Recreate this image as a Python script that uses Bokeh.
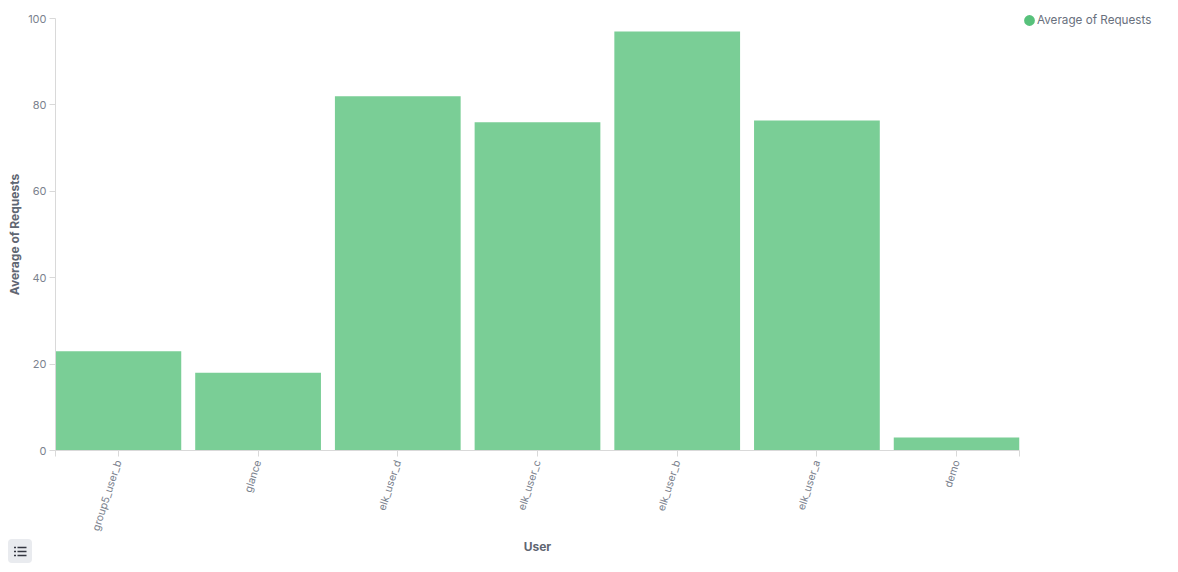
from bokeh.plotting import figure
from bokeh.layouts import column
from bokeh.models import Range1d, Legend, LegendItem, FixedTicker, Div
from bokeh.embed import file_html
from bokeh.resources import INLINE

users = ["group5_user_b", "glance", "elk_user_d", "elk_user_c", "elk_user_b", "elk_user_a", "demo"]
requests = [23, 18, 82, 76, 97, 76.4, 3]
y_ticks = [0, 20, 40, 60, 80, 100]

FONT = "Inter"
AXIS = "#d9d9d9"
TEXT = "#7b828e"
TITLE = "#5f6672"
BAR_W = 0.9
x_pos = list(range(len(users)))
x_lo, x_hi = -BAR_W / 2, len(users) - 1 + BAR_W / 2

p = figure(frame_width=964, frame_height=432, output_backend="svg", toolbar_location=None,
           x_range=Range1d(x_lo, x_hi), y_range=Range1d(0, 100),
           min_border_left=55, min_border_top=18, min_border_right=0, min_border_bottom=100,
           x_axis_label="User", y_axis_label="Average of Requests")
p.outline_line_color = None
p.grid.visible = False

bars = p.vbar(x=x_pos, top=requests, width=BAR_W, fill_color="#7ace96", line_color=None)
# legend key only: its single point lies outside the visible ranges
marker = p.scatter(x=[x_lo - 1], y=[-1], size=11, marker="circle", fill_color="#57c17b",
                   line_color="#57c17b", line_width=6)

for ax in (p.xaxis[0], p.yaxis[0]):
    ax.axis_line_color = AXIS
    ax.major_tick_line_color = AXIS
    ax.minor_tick_line_color = None
    ax.major_tick_in = 0
    ax.major_tick_out = 6
    ax.major_label_text_font = FONT
    ax.major_label_text_font_size = "11px"
    ax.major_label_text_color = TEXT
    ax.axis_label_text_font = FONT
    ax.axis_label_text_font_size = "12px"
    ax.axis_label_text_font_style = "bold"
    ax.axis_label_text_color = TITLE

p.yaxis[0].ticker = FixedTicker(ticks=y_ticks)
p.yaxis[0].major_label_standoff = 3
p.yaxis[0].axis_label_standoff = 3
p.xaxis[0].ticker = FixedTicker(ticks=[x_lo] + x_pos + [x_hi])
overrides = {i: u for i, u in zip(x_pos, users)}
overrides[x_lo] = ""
overrides[x_hi] = ""
p.xaxis[0].major_label_overrides = overrides
p.xaxis[0].major_label_text_font_size = "10.5px"
p.xaxis[0].major_label_orientation = 1.257
p.xaxis[0].major_label_standoff = 4
p.xaxis[0].axis_label_standoff = 1

legend = Legend(items=[LegendItem(label="Average of Requests", renderers=[marker])],
                location=(4, 423), background_fill_alpha=0, border_line_color=None,
                label_text_font=FONT, label_text_font_size="11.7px", label_text_color="#69707d",
                glyph_width=12, glyph_height=12, label_standoff=2, padding=0, margin=0,
                label_height=14)
p.add_layout(legend, "right")

icon = ('<svg width="24" height="24" xmlns="http://www.w3.org/2000/svg">'
        '<rect width="24" height="24" rx="4" fill="#e9ebef"/>'
        '<path d="M6 8.5h2M9.5 8.5h9M6 12.5h2M9.5 12.5h9M6 16.5h2M9.5 16.5h9" '
        'stroke="#343741" stroke-width="1.3"/></svg>')
button = Div(text=icon, width=24, height=24, margin=(-17, 0, 0, 8))

open("out.html", "w").write(file_html(column(p, button), INLINE))
